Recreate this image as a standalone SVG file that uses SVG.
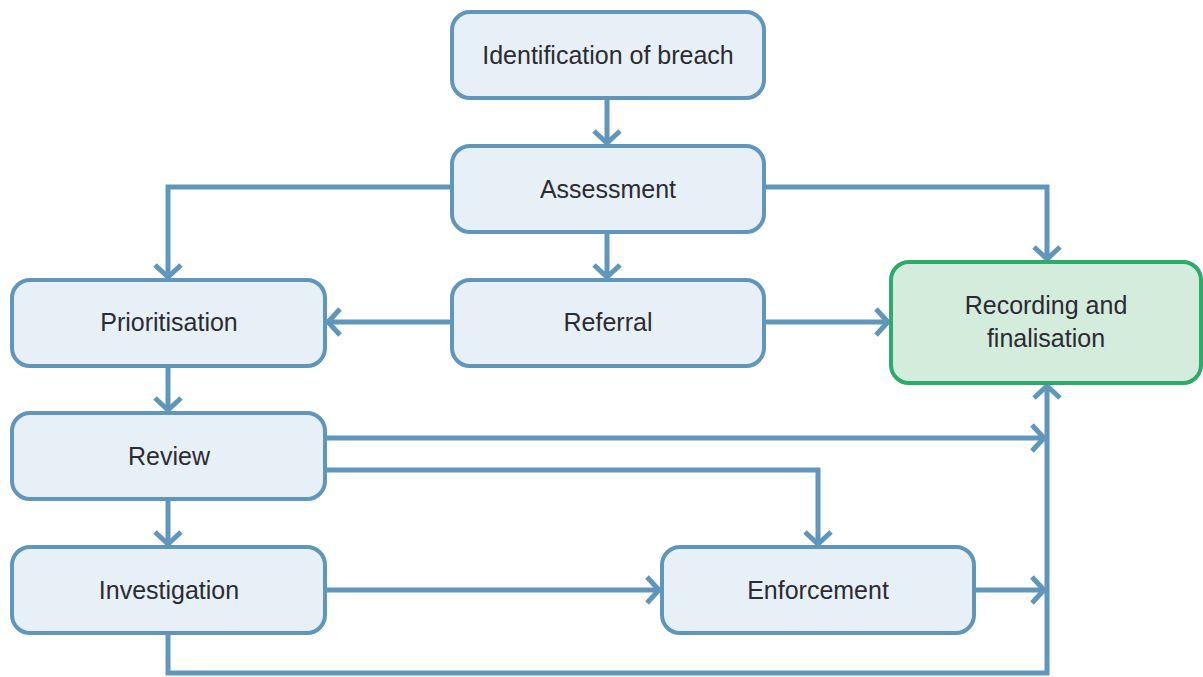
<svg xmlns="http://www.w3.org/2000/svg" width="1203" height="677" viewBox="0 0 1203 677">
<style>
.n rect{fill:#e8f0f7;stroke:#6096bb;stroke-width:4}
.g rect{fill:#d3ecdc;stroke:#2eaa6a;stroke-width:4}
text{font-family:"Liberation Sans",Arial,sans-serif;font-size:25px;fill:#2b2b33;text-anchor:middle}
.c path{fill:none;stroke:#6096bb;stroke-width:5}
</style>
<defs>
<marker id="a" markerUnits="userSpaceOnUse" markerWidth="40" markerHeight="40" viewBox="-20 -20 40 40" refX="0" refY="0" orient="auto">
<path d="M-13,-13 L-1,0 L-13,13" fill="none" stroke="#6096bb" stroke-width="5"/>
</marker>
</defs>
<g class="c" id="connectors">
<path d="M607,98 V144" marker-end="url(#a)"/>
<path d="M607,232 V278" marker-end="url(#a)"/>
<path d="M452,187 H168 V278" marker-end="url(#a)"/>
<path d="M764,187 H1047 V260" marker-end="url(#a)"/>
<path d="M452,322 H327" marker-end="url(#a)"/>
<path d="M764,322 H889" marker-end="url(#a)"/>
<path d="M168,366 V411" marker-end="url(#a)"/>
<path d="M325,438 H1045" marker-end="url(#a)"/>
<path d="M325,470 H818 V545" marker-end="url(#a)"/>
<path d="M168,499 V545" marker-end="url(#a)"/>
<path d="M325,590 H660" marker-end="url(#a)"/>
<path d="M974,590 H1045" marker-end="url(#a)"/>
<path d="M168,633 V673 H1047 V385" marker-end="url(#a)"/>
</g>
<g class="n" id="identification"><rect x="452" y="12" width="312" height="86" rx="18"/><text x="608" y="64">Identification of breach</text></g>
<g class="n" id="assessment"><rect x="452" y="146" width="312" height="86" rx="18"/><text x="608" y="198">Assessment</text></g>
<g class="n" id="referral"><rect x="452" y="280" width="312" height="86" rx="18"/><text x="608" y="331">Referral</text></g>
<g class="n" id="prioritisation"><rect x="12" y="280" width="313" height="86" rx="18"/><text x="169" y="331">Prioritisation</text></g>
<g class="n" id="review"><rect x="12" y="413" width="313" height="86" rx="18"/><text x="169" y="465">Review</text></g>
<g class="n" id="investigation"><rect x="12" y="547" width="313" height="86" rx="18"/><text x="169" y="599">Investigation</text></g>
<g class="n" id="enforcement"><rect x="662" y="547" width="312" height="86" rx="18"/><text x="818" y="599">Enforcement</text></g>
<g class="g" id="recording"><rect x="891" y="262" width="310" height="121" rx="18"/><text x="1046" y="314">Recording and</text><text x="1046" y="347">finalisation</text></g>
</svg>
